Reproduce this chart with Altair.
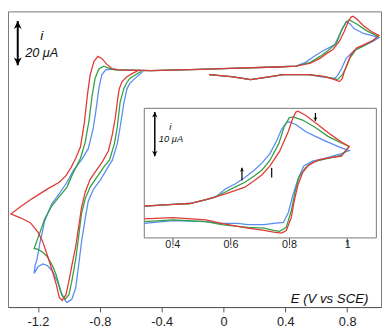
import altair as alt
import pandas as pd

FONT = "Liberation Sans"

# ---------------- main voltammograms: (E / V vs SCE, i / uA, anodic up) ----------------
MAIN_RED = [
    (-0.544, 59.6), (-0.594, 57.8), (-0.625, 56.5), (-0.656, 54.3), (-0.675, 50.9), (-0.6875, 44.8),
    (-0.700, 37.8), (-0.719, 30.4), (-0.744, 23.0), (-0.781, 18.3), (-0.825, 13.9), (-0.8625, 10.0),
    (-0.894, 4.3), (-0.919, -3.0), (-0.9375, -11.7), (-0.956, -20.4), (-0.981, -29.1), (-1.000, -36.1),
    (-1.019, -42.2), (-1.044, -44.8), (-1.0625, -43.5), (-1.081, -37.8), (-1.106, -31.7), (-1.1375, -24.8),
    (-1.169, -18.3), (-1.200, -13.9), (-1.250, -9.6), (-1.3125, -7.4), (-1.375, -5.7),
    (-1.325, -3.0), (-1.2375, 1.3), (-1.1375, 5.7), (-1.0625, 8.7), (-1.019, 11.7), (-0.9875, 15.2),
    (-0.956, 19.6), (-0.925, 24.8), (-0.900, 35.7), (-0.881, 47.8), (-0.8625, 57.4), (-0.8375, 63.5),
    (-0.8125, 65.7), (-0.7875, 64.8), (-0.756, 62.2), (-0.719, 60.0), (-0.675, 59.6),
    (-0.469, 59.3), (-0.156, 59.8), (0.094, 60.4), (0.344, 60.9), (0.469, 61.3),
    (0.5625, 62.6), (0.625, 64.8), (0.656, 66.5), (0.706, 68.7), (0.750, 72.6), (0.781, 77.0),
    (0.806, 81.3), (0.825, 83.5), (0.8375, 83.9), (0.8625, 82.6), (0.906, 79.6), (0.956, 77.0), (1.006, 75.2),
    (0.969, 73.0), (0.906, 70.9), (0.8625, 69.6), (0.825, 66.5), (0.800, 62.2), (0.781, 58.7),
    (0.769, 55.7), (0.750, 54.3), (0.719, 55.2), (0.656, 56.5), (0.550, 57.4), (0.450, 57.4),
    (0.3875, 57.4), (0.2625, 56.1), (0.175, 55.2), (0.050, 56.5), (-0.094, 57.4),
]
MAIN_GREEN = [
    (-0.531, 59.1), (-0.606, 55.7), (-0.625, 53.9), (-0.644, 51.3), (-0.669, 44.8), (-0.6875, 33.5),
    (-0.706, 26.1), (-0.7375, 18.7), (-0.769, 16.1), (-0.8125, 11.7), (-0.8625, 6.5), (-0.894, 1.3),
    (-0.919, -5.7), (-0.9375, -16.1), (-0.956, -26.1), (-0.981, -36.1), (-1.000, -42.2), (-1.025, -44.3),
    (-1.044, -42.6), (-1.0625, -38.3), (-1.081, -33.5), (-1.106, -29.1), (-1.1375, -25.2), (-1.169, -23.0),
    (-1.200, -21.7), (-1.225, -21.3),
    (-1.200, -16.5), (-1.156, -7.8), (-1.1125, -2.2), (-1.0625, 2.2), (-1.0125, 6.5), (-0.981, 11.7),
    (-0.956, 15.2), (-0.925, 19.6), (-0.894, 27.0), (-0.869, 37.0), (-0.850, 47.8), (-0.831, 55.7),
    (-0.806, 60.0), (-0.775, 61.3), (-0.744, 60.4), (-0.706, 59.6),
    (-0.469, 59.3), (-0.156, 59.8), (0.094, 60.4), (0.344, 60.9), (0.469, 61.3),
    (0.5625, 63.0), (0.625, 65.7), (0.675, 68.3), (0.731, 71.7), (0.769, 78.3), (0.794, 81.3),
    (0.8125, 82.2), (0.8625, 80.4), (0.925, 77.4), (1.000, 74.8),
    (0.969, 73.0), (0.906, 70.4), (0.856, 68.7), (0.819, 65.2), (0.794, 60.9), (0.769, 57.4),
    (0.7375, 55.2), (0.706, 55.7), (0.656, 56.5), (0.550, 57.4), (0.450, 57.4), (0.3875, 57.4),
    (0.2625, 56.1), (0.175, 55.2), (0.050, 56.5), (-0.094, 57.4),
]
MAIN_BLUE = [
    (-0.519, 59.1), (-0.581, 55.2), (-0.606, 53.5), (-0.625, 50.9), (-0.644, 44.8), (-0.669, 33.5),
    (-0.6875, 26.1), (-0.719, 18.7), (-0.750, 15.2), (-0.794, 10.0), (-0.844, 5.2), (-0.875, 0.0),
    (-0.894, -7.4), (-0.919, -18.7), (-0.9375, -29.1), (-0.956, -39.1), (-0.981, -44.3), (-1.0125, -45.7),
    (-1.025, -44.8), (-1.050, -41.3), (-1.075, -36.1), (-1.106, -31.7), (-1.1375, -29.1), (-1.169, -28.3),
    (-1.200, -29.6), (-1.225, -32.6),
    (-1.219, -29.1), (-1.206, -26.1), (-1.1875, -18.7), (-1.156, -8.7), (-1.1125, -1.3), (-1.0625, 3.5),
    (-1.0125, 8.7), (-0.969, 14.3), (-0.919, 18.7), (-0.875, 23.9), (-0.844, 32.6), (-0.825, 41.3),
    (-0.806, 51.3), (-0.787, 57.4), (-0.7625, 59.6), (-0.719, 60.0), (-0.675, 59.6),
    (-0.469, 59.3), (-0.156, 59.8), (0.094, 60.4), (0.344, 60.9), (0.469, 61.3),
    (0.531, 63.0), (0.594, 66.1), (0.656, 68.7), (0.719, 70.9), (0.7625, 77.4), (0.794, 81.3),
    (0.819, 80.4), (0.844, 78.3), (0.906, 76.1), (1.006, 74.3),
    (0.969, 72.6), (0.906, 70.4), (0.844, 68.3), (0.794, 64.8), (0.7625, 60.0), (0.7375, 57.0),
    (0.719, 55.7), (0.675, 56.1), (0.625, 56.5), (0.550, 57.4), (0.450, 57.4), (0.3875, 57.4),
    (0.2625, 56.1), (0.175, 55.2), (0.050, 56.5), (-0.094, 57.4),
]

# ---------------- inset (0.3 - 1.1 V) ----------------
INSET_RED = [
    (0.304, 7.2), (0.403, 7.6), (0.460, 7.8), (0.516, 8.7), (0.549, 9.3), (0.582, 10.0), (0.615, 10.7),
    (0.649, 11.5), (0.682, 13.0), (0.708, 14.3), (0.735, 16.3), (0.768, 19.6), (0.798, 24.1), (0.814, 27.2),
    (0.824, 28.5), (0.831, 28.7), (0.857, 27.8), (0.891, 26.1), (0.934, 23.9), (0.980, 21.7), (1.007, 20.7),
    (0.980, 18.5), (0.924, 18.0), (0.900, 17.6), (0.867, 16.5), (0.847, 14.8), (0.831, 12.0), (0.818, 8.3),
    (0.808, 4.6), (0.791, 1.7), (0.775, 1.1), (0.748, 1.3), (0.715, 1.7), (0.659, 2.2), (0.625, 2.6),
    (0.569, 3.3), (0.516, 4.1), (0.403, 4.6), (0.304, 4.3),
]
INSET_GREEN = [
    (0.304, 7.2), (0.403, 7.6), (0.460, 7.8), (0.516, 8.7), (0.549, 9.3), (0.582, 10.4), (0.615, 11.5),
    (0.649, 12.6), (0.682, 14.1), (0.708, 15.4), (0.735, 17.6), (0.765, 21.3), (0.784, 25.2), (0.801, 27.2),
    (0.814, 27.4), (0.847, 26.7), (0.891, 25.0), (0.934, 23.0), (0.980, 21.5), (1.007, 20.7),
    (0.980, 18.7), (0.934, 18.0), (0.884, 17.2), (0.857, 15.9), (0.834, 13.7), (0.821, 10.4), (0.808, 6.1),
    (0.791, 2.4), (0.768, 1.5), (0.748, 1.7), (0.715, 2.2), (0.659, 2.4), (0.625, 2.6), (0.569, 3.0),
    (0.516, 3.7), (0.403, 4.1), (0.304, 3.7),
]
INSET_BLUE = [
    (0.304, 7.2), (0.403, 7.6), (0.460, 7.8), (0.516, 8.7), (0.549, 9.3), (0.582, 11.1), (0.615, 12.2),
    (0.649, 13.7), (0.682, 15.4), (0.708, 17.0), (0.735, 19.1), (0.758, 22.0), (0.775, 24.6), (0.791, 26.1),
    (0.801, 26.3), (0.824, 25.7), (0.857, 24.1), (0.891, 23.0), (0.934, 21.7), (0.980, 20.4), (1.007, 19.8),
    (0.980, 19.1), (0.924, 18.0), (0.881, 17.4), (0.851, 16.3), (0.831, 13.3), (0.814, 9.8), (0.798, 5.7),
    (0.781, 3.5), (0.748, 3.3), (0.715, 3.0), (0.659, 3.0), (0.625, 3.3), (0.569, 3.3), (0.516, 3.7),
    (0.403, 3.9), (0.304, 3.3),
]

MAIN_TICKS = [-1.2, -0.8, -0.4, 0, 0.4, 0.8]
INSET_TICKS = [0.4, 0.6, 0.8, 1.0]

COLORS = {"blue": "#5a8cf2", "green": "#33a043", "red": "#e03a36"}

# scale extents
MAIN_X = [-1.394, 1.019]
MAIN_Y = [-47.83, 86.09]
INSET_X = [-0.1635, 1.116]
INSET_Y = [-15.65, 51.30]
INSET_BOX = {"E0": 0.304, "E1": 1.10, "I0": 0.0, "I1": 29.35}

W, H = 381, 302

xs_main = alt.Scale(domain=MAIN_X, nice=False, zero=False)
ys_main = alt.Scale(domain=MAIN_Y, nice=False, zero=False)
xs_ins = alt.Scale(domain=INSET_X, nice=False, zero=False)
ys_ins = alt.Scale(domain=INSET_Y, nice=False, zero=False)

main_axis = alt.Axis(values=MAIN_TICKS, title=None, grid=False, tickSize=5, labelFontSize=13,
                     labelPadding=4, domainColor="#555", tickColor="#555", labelColor="#222",
                     labelFlush=False, labelFont=FONT,
                     labelExpr="replace(format(datum.value, '.1~f'), '\u2212', '-')")
inset_axis = alt.Axis(values=INSET_TICKS, title=None, grid=False, orient="bottom", offset=-70.6,
                      domain=False, tickSize=7, tickColor="#444", labelPadding=-6, labelFontSize=11,
                      labelColor="#222", labelFlush=False, labelFont=FONT, zindex=1,
                      labelExpr="format(datum.value, '.1~f')")


def df(pts, name):
    return pd.DataFrame({"E": [p[0] for p in pts], "i": [p[1] for p in pts],
                         "series": name, "k": list(range(len(pts)))})


def curve(pts, name, xs, ys, xaxis):
    return alt.Chart(df(pts, name)).mark_line(strokeWidth=1.3, color=COLORS[name]).encode(
        x=alt.X("E:Q", scale=xs, axis=xaxis),
        y=alt.Y("i:Q", scale=ys, axis=None),
        order="k:Q",
    )


UP = "M0,0L0.8,1.6L0,1.1L-0.8,1.6Z"
DOWN = "M0,0L0.8,-1.6L0,-1.1L-0.8,-1.6Z"


def arrow(E, i_lo, i_hi, xs, ys, xaxis, size, width, up=True, down=True):
    stem = pd.DataFrame({"E": [E], "a": [i_lo], "b": [i_hi]})
    layers = [alt.Chart(stem).mark_rule(strokeWidth=width, color="black").encode(
        x=alt.X("E:Q", scale=xs, axis=xaxis), y=alt.Y("a:Q", scale=ys, axis=None), y2="b:Q")]
    if up:
        layers.append(alt.Chart(pd.DataFrame({"E": [E], "i": [i_hi]})).mark_point(
            shape=UP, filled=True, size=size, color="black", opacity=1).encode(
            x=alt.X("E:Q", scale=xs, axis=xaxis), y=alt.Y("i:Q", scale=ys, axis=None)))
    if down:
        layers.append(alt.Chart(pd.DataFrame({"E": [E], "i": [i_lo]})).mark_point(
            shape=DOWN, filled=True, size=size, color="black", opacity=1).encode(
            x=alt.X("E:Q", scale=xs, axis=xaxis), y=alt.Y("i:Q", scale=ys, axis=None)))
    return layers


def label(text, E, i, xs, ys, xaxis, size, align="left", italic=True):
    return alt.Chart(pd.DataFrame({"E": [E], "i": [i], "t": [text]})).mark_text(
        font=FONT, fontSize=size, fontStyle="italic" if italic else "normal", align=align,
        baseline="middle", color="#111").encode(
        x=alt.X("E:Q", scale=xs, axis=xaxis), y=alt.Y("i:Q", scale=ys, axis=None), text="t:N")


main_layers = [
    curve(MAIN_BLUE, "blue", xs_main, ys_main, main_axis),
    curve(MAIN_GREEN, "green", xs_main, ys_main, main_axis),
    curve(MAIN_RED, "red", xs_main, ys_main, main_axis),
]
main_layers += arrow(-1.331, 61.7, 81.7, xs_main, ys_main, main_axis, 100, 2)
main_layers += [
    label("i", -1.175, 74.8, xs_main, ys_main, main_axis, 14, "center"),
    label("20 \u03bcA", -1.283, 67.2, xs_main, ys_main, main_axis, 13),
    label("E (V vs SCE)", 0.9375, -44.0, xs_main, ys_main, main_axis, 13.5, "right"),
]
main = alt.layer(*main_layers)

box = alt.Chart(pd.DataFrame([INSET_BOX])).mark_rect(fill="white", stroke="#777", strokeWidth=1).encode(
    x=alt.X("E0:Q", scale=xs_ins, axis=inset_axis), x2="E1:Q",
    y=alt.Y("I0:Q", scale=ys_ins, axis=None), y2="I1:Q")
inset_layers = [
    box,
    curve(INSET_BLUE, "blue", xs_ins, ys_ins, inset_axis),
    curve(INSET_GREEN, "green", xs_ins, ys_ins, inset_axis),
    curve(INSET_RED, "red", xs_ins, ys_ins, inset_axis),
]
inset_layers += arrow(0.340, 18.5, 28.5, xs_ins, ys_ins, inset_axis, 49, 1.5)
inset_layers += arrow(0.639, 13.0, 15.9, xs_ins, ys_ins, inset_axis, 25, 1.2, up=True, down=False)
inset_layers += arrow(0.891, 26.5, 28.3, xs_ins, ys_ins, inset_axis, 25, 1.2, up=False, down=True)
inset_layers.append(
    alt.Chart(pd.DataFrame({"E": [0.741], "a": [13.7], "b": [15.9]})).mark_rule(strokeWidth=1.2, color="black").encode(
        x=alt.X("E:Q", scale=xs_ins, axis=inset_axis), y=alt.Y("a:Q", scale=ys_ins, axis=None), y2="b:Q"))
inset_layers += [
    label("i", 0.393, 25.0, xs_ins, ys_ins, inset_axis, 10, "center"),
    label("10 \u03bcA", 0.354, 22.4, xs_ins, ys_ins, inset_axis, 9.5),
]
inset = alt.layer(*inset_layers)

chart = alt.layer(main, inset).resolve_scale(x="independent", y="independent").properties(
    width=W, height=H, padding=0
).configure_view(stroke="#777", strokeWidth=1).configure_axis(labelFont=FONT)

chart.save("out.html", embed_options={"renderer": "svg", "actions": False})
